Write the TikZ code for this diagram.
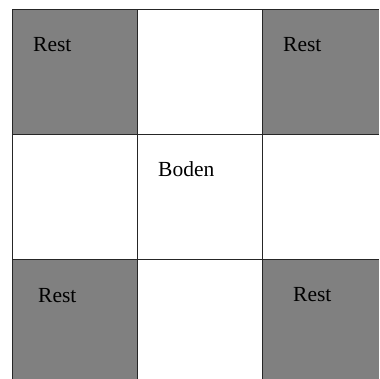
\documentclass[tikz,border=0pt]{standalone}
\usepackage{fontspec}
\setmainfont{Liberation Serif}
\begin{document}
\begin{tikzpicture}[x=1pt,y=-1pt,
  restcell/.style={fill=gray},
  gridline/.style={line width=1pt,draw=black!85},
  lbl/.style={anchor=base west,inner sep=0pt,font=\fontsize{21.5}{24}\selectfont}]
\useasboundingbox (0,0) rectangle (379,379);
\fill[restcell] (12,10) rectangle (137,135);
\fill[restcell] (262,10) rectangle (379,135);
\fill[restcell] (12,259) rectangle (137,379);
\fill[restcell] (262,259) rectangle (379,379);
\foreach \x in {12,137,262} \draw[gridline] (\x,10) -- (\x,379);
\foreach \y in {10,135,259} \draw[gridline] (12,\y) -- (379,\y);
\node[lbl] (r1) at (33,52) {Rest};
\node[lbl] (r2) at (283,52) {Rest};
\node[lbl] (r3) at (38,302) {Rest};
\node[lbl] (r4) at (293,301) {Rest};
\node[lbl] (b) at (158,176) {Boden};
\end{tikzpicture}
\end{document}
